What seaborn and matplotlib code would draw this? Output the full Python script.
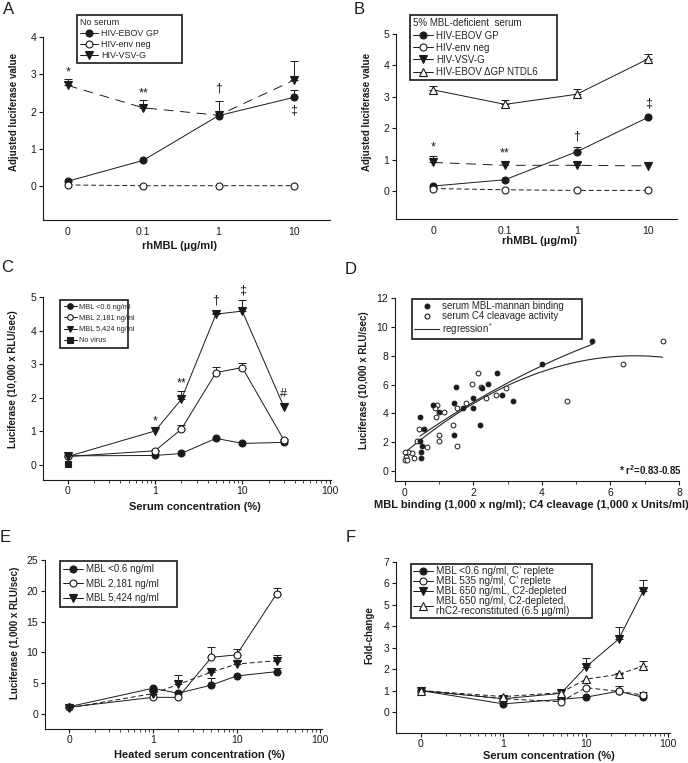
import numpy as np
import matplotlib
matplotlib.use('Agg')
import matplotlib.pyplot as plt
import seaborn as sns
from matplotlib.lines import Line2D
from matplotlib.ticker import FixedLocator, NullFormatter

# ---- Panel A: no serum ----
dose_labels = ['0', '0.1', '1', '10']
a_ebov = [0.13, 0.69, 1.89, 2.38]
a_ebov_err = [0, 0, 0, 0.21]
a_envneg = [0.03, 0.01, 0.01, 0.01]
a_vsvg = [2.70, 2.10, 1.90, 2.84]
a_vsvg_err = [0.16, 0.20, 0.37, 0.52]
a_sig = ['*', '**', '\u2020', '\u2021']
a_sig_y = [3.05, 2.48, 2.62, 2.02]

# ---- Panel B: 5% MBL-deficient serum ----
b_ebov = [0.16, 0.36, 1.25, 2.35]
b_ebov_err = [0, 0, 0.14, 0]
b_envneg = [0.08, 0.04, 0.02, 0.02]
b_vsvg = [0.91, 0.82, 0.82, 0.80]
b_vsvg_err = [0.20, 0, 0.12, 0]
b_ntdl6 = [3.22, 2.76, 3.08, 4.21]
b_ntdl6_err = [0.13, 0.14, 0.16, 0.16]
b_sig = ['*', '**', '\u2020', '\u2021']
b_sig_y = [1.38, 1.19, 1.73, 2.78]

# ---- Panel C: serum titration ----
c_serum = [0, 1, 2, 5, 10, 30]
c_low = [0.27, 0.28, 0.34, 0.79, 0.64, 0.67]
c_mid = [0.25, 0.42, 1.06, 2.75, 2.90, 0.74]
c_mid_err = [0, 0.03, 0.14, 0.18, 0.12, 0.03]
c_high = [0.25, 1.01, 1.95, 4.49, 4.58, 1.73]
c_high_err = [0, 0, 0.25, 0.03, 0.32, 0]
c_novirus_x = [0]
c_novirus = [0.03]
c_sig = ['*', '**', '\u2020', '\u2021', '#']
c_sig_x = [1, 2, 5, 10, 30]
c_sig_y = [1.3, 2.43, 4.9, 5.2, 2.1]

# ---- Panel D: MBL binding / C4 cleavage vs luciferase ----
d_mbl_x = [5.47, 4.01, 2.68, 2.43, 2.26, 1.50, 2.82, 3.16, 1.99, 1.43, 1.70, 2.00,
           0.83, 0.99, 0.44, 0.57, 2.20, 1.43, 0.49, 0.45, 0.46, 0.46]
d_mbl_y = [9.05, 7.45, 6.80, 6.02, 5.74, 5.86, 5.25, 4.86, 5.05, 4.72, 4.38, 4.40,
           4.58, 4.10, 3.77, 2.94, 3.19, 2.52, 1.74, 2.05, 1.34, 0.88]
d_c4_x = [7.52, 6.37, 4.72, 2.14, 1.96, 2.21, 2.94, 2.65, 2.37, 1.77, 1.51, 0.93,
          0.88, 1.13, 0.90, 0.42, 1.39, 1.00, 0.98, 1.51, 0.34, 0.63, 0.21, 0.10,
          0.00, 0.27, 0.02, 0.00, 0.05]
d_c4_y = [9.05, 7.45, 4.84, 6.80, 6.02, 5.86, 5.74, 5.25, 5.05, 4.72, 4.38, 4.56,
          4.40, 4.10, 3.77, 2.94, 3.17, 2.52, 2.06, 1.74, 2.06, 1.70, 1.27, 1.34,
          1.34, 0.88, 1.00, 0.78, 0.80]

# ---- Panel E: heated serum ----
e_serum = [0, 1, 2, 5, 10, 30]
e_low = [1.2, 4.17, 3.36, 4.7, 6.17, 6.87]
e_low_err = [0, 0, 0, 1.1, 0, 0.65]
e_mid = [1.1, 2.7, 2.7, 9.2, 9.6, 19.5]
e_mid_err = [0, 0, 0, 1.6, 0.9, 1.0]
e_high = [1.0, 3.3, 4.8, 6.8, 8.1, 8.66]
e_high_err = [0, 0.4, 1.6, 0.7, 0.7, 0.95]

# ---- Panel F: C2 depletion ----
f_serum = [0, 1, 5, 10, 25, 50]
f_low = [1.0, 0.38, 0.59, 0.69, 0.97, 0.68]
f_mid = [1.0, 0.62, 0.48, 1.14, 0.96, 0.79]
f_mid_err = [0, 0, 0, 0, 0.25, 0.15]
f_c2dep = [1.0, 0.62, 0.87, 2.10, 3.40, 5.66]
f_c2dep_err = [0, 0, 0, 0.4, 0.55, 0.5]
f_rhc2 = [1.0, 0.72, 0.90, 1.53, 1.76, 2.15]
f_rhc2_err = [0, 0, 0, 0, 0.05, 0.25]

W, H = 688, 763
sns.set_theme(style='ticks')
plt.rcParams['font.family'] = ['Liberation Sans', 'DejaVu Sans']
plt.rcParams['mathtext.fontset'] = 'custom'
plt.rcParams['mathtext.rm'] = 'Liberation Sans'
plt.rcParams['mathtext.bf'] = 'Liberation Sans:bold'

fig = plt.figure(figsize=(W / 100, H / 100), dpi=100)
fig.patch.set_facecolor('white')


def add_axes(l, r, t, b):
    return fig.add_axes([l / W, 1 - b / H, (r - l) / W, (b - t) / H])


def style(ax):
    sns.despine(ax=ax)
    for s in ('left', 'bottom'):
        ax.spines[s].set_linewidth(0.8)
        ax.spines[s].set_color('k')
    ax.tick_params(direction='out', length=3, width=0.8, labelsize=7.5,
                   colors='k', pad=2)
    ax.set_facecolor('white')


def log_axis(ax, left, right):
    # serum 0 is drawn one decade left of 1
    ax.set_xscale('log')
    ax.set_xlim(left, right)
    ax.set_xticks([0.1, 1, 10, 100])
    ax.set_xticklabels(['0', '1', '10', '100'])
    minor = [m * 10.0 ** e for e in (-1, 0, 1) for m in range(2, 10)]
    ax.xaxis.set_minor_locator(FixedLocator(minor))
    ax.xaxis.set_minor_formatter(NullFormatter())
    ax.tick_params(axis='x', which='minor', length=2, width=0.6)
    ax.tick_params(axis='x', which='major', pad=1)


def xpos(vals):
    return [0.1 if v == 0 else v for v in vals]


def series(ax, x, y, marker, filled, ls='-', ms=5):
    sns.lineplot(x=x, y=y, ax=ax, color='k', lw=0.7, linestyle=ls,
                 marker=marker, markersize=ms,
                 markerfacecolor='k' if filled else 'white',
                 markeredgecolor='k', markeredgewidth=0.8,
                 errorbar=None, sort=False, zorder=3)


def upper_err(ax, x, y, err):
    x = np.asarray(x, float)
    y = np.asarray(y, float)
    e = np.asarray(err, float)
    keep = e > 0
    ax.errorbar(x[keep], y[keep], yerr=[np.zeros(keep.sum()), e[keep]],
                fmt='none', ecolor='k', elinewidth=0.7, capsize=2.8,
                capthick=0.7, zorder=2)


def handle(marker, filled, ms=5, lw=0.7):
    return Line2D([], [], color='k', lw=lw, marker=marker, ms=ms,
                  mfc='k' if filled else 'white', mec='k', mew=0.8)


def legend(ax, handles, labels, x0, x1, y, size, title=None, hl=2.0,
           spacing=0.15, pad=0.35, linesp=1.2):
    leg = ax.legend(handles, labels, loc='upper left', mode='expand',
                    bbox_to_anchor=(x0 / W, 1 - y / H, (x1 - x0) / W, 0),
                    bbox_transform=fig.transFigure, borderaxespad=0,
                    fontsize=size, title=title, title_fontsize=size,
                    frameon=True, fancybox=False, handlelength=hl,
                    handletextpad=0.3, labelspacing=spacing, borderpad=pad,
                    alignment='left')
    leg.get_frame().set_edgecolor('k')
    leg.get_frame().set_linewidth(1.2)
    leg.get_frame().set_alpha(1)
    for t in leg.get_texts():
        t.set_linespacing(linesp)
    return leg


def labels(ax, xlabel, ylabel, xl_x, xl_y, yl_x, yl_y):
    ax.set_xlabel(xlabel, fontsize=8, fontweight='bold', color='k')
    ax.set_ylabel(ylabel, fontsize=7, fontweight='bold', color='k')
    ax.xaxis.set_label_coords(xl_x / W, 1 - xl_y / H, transform=fig.transFigure)
    ax.yaxis.set_label_coords(yl_x / W, 1 - yl_y / H, transform=fig.transFigure)
    ax.xaxis.label.set_va('center')
    ax.yaxis.label.set_va('center')


def sig(ax, xs, ys, marks):
    for x, y, m in zip(xs, ys, marks):
        ax.text(x, y, m, fontsize=9, ha='center', va='center', color='k',
                clip_on=False)


# ---------------- A ----------------
axA = add_axes(43, 330, 37, 220)
style(axA)
pos = list(range(len(dose_labels)))
upper_err(axA, pos, a_ebov, a_ebov_err)
upper_err(axA, pos, a_vsvg, a_vsvg_err)
series(axA, pos, a_ebov, 'o', True)
series(axA, pos, a_envneg, 'o', False, ls=(0, (5, 3)))
series(axA, pos, a_vsvg, 'v', True, ls=(0, (10, 7)), ms=5.5)
axA.set_xlim(-0.33, 3.48)
axA.set_ylim(-0.91, 4)
axA.set_yticks([0, 1, 2, 3, 4])
axA.set_xticks(pos)
axA.set_xticklabels(dose_labels)
axA.tick_params(axis='x', length=0, pad=5)
sig(axA, pos, a_sig_y, a_sig)
labels(axA, 'rhMBL (\u00b5g/ml)', 'Adjusted luciferase value', 180, 246, 14, 112)
legend(axA, [handle('o', True), handle('o', False), handle('v', True, 5.5)],
       ['HIV-EBOV GP', 'HIV-env neg', 'HIV-VSV-G'], 77, 182, 15, 6.5,
       title='No serum', spacing=0.22)

# ---------------- B ----------------
axB = add_axes(396, 677, 34, 219)
style(axB)
upper_err(axB, pos, b_ebov, b_ebov_err)
upper_err(axB, pos, b_vsvg, b_vsvg_err)
upper_err(axB, pos, b_ntdl6, b_ntdl6_err)
series(axB, pos, b_ntdl6, '^', False, ms=5.5)
series(axB, pos, b_ebov, 'o', True)
series(axB, pos, b_envneg, 'o', False, ls=(0, (5, 3)))
series(axB, pos, b_vsvg, 'v', True, ls=(0, (10, 7)), ms=5.5)
axB.set_xlim(-0.52, 3.40)
axB.set_ylim(-0.89, 5)
axB.set_yticks([0, 1, 2, 3, 4, 5])
axB.set_xticks(pos)
axB.set_xticklabels(dose_labels)
axB.tick_params(axis='x', length=0, pad=5)
sig(axB, pos, b_sig_y, b_sig)
labels(axB, 'rhMBL (\u00b5g/ml)', 'Adjusted luciferase value', 540, 241, 367, 112)
legend(axB, [handle('o', True), handle('o', False), handle('v', True, 5.5),
             handle('^', False, 5.5)],
       ['HIV-EBOV GP', 'HIV-env neg', 'HIV-VSV-G', 'HIV-EBOV \u0394GP NTDL6'],
       410, 557, 15, 7, title='5% MBL-deficient  serum', spacing=0.22)

# ---------------- C ----------------
axC = add_axes(43, 331, 297, 480)
style(axC)
log_axis(axC, 0.052, 104)
cx = xpos(c_serum)
upper_err(axC, cx, c_mid, c_mid_err)
upper_err(axC, cx, c_high, c_high_err)
series(axC, cx, c_low, 'o', True)
series(axC, cx, c_mid, 'o', False)
series(axC, cx, c_high, 'v', True, ms=5.5)
series(axC, xpos(c_novirus_x), c_novirus, 's', True, ms=4.5)
axC.set_ylim(-0.45, 5)
axC.set_yticks([0, 1, 2, 3, 4, 5])
sig(axC, c_sig_x, c_sig_y, c_sig)
labels(axC, 'Serum concentration (%)', 'Luciferase (10,000 x RLU/sec)', 195, 507, 13, 379)
legend(axC, [handle('o', True, 4), handle('o', False, 4), handle('v', True, 4.5),
             handle('s', True, 3.8)],
       ['MBL <0.6 ng/ml', 'MBL 2,181 ng/ml', 'MBL 5,424 ng/ml', 'No virus'],
       60, 128, 300, 5.3, hl=1.8, spacing=0.55, pad=0.5)

# ---------------- D ----------------
axD = add_axes(395, 679, 298, 481)
style(axD)
sns.regplot(x=d_mbl_x, y=d_mbl_y, ax=axD, order=2, ci=None, scatter=False,
            truncate=True, color='0.15', line_kws={'lw': 0.8})
sns.regplot(x=d_c4_x, y=d_c4_y, ax=axD, order=2, ci=None, scatter=False,
            truncate=True, color='0.15', line_kws={'lw': 0.8})
sns.scatterplot(x=d_c4_x, y=d_c4_y, ax=axD, s=12, color='white',
                edgecolor='k', linewidth=0.7, zorder=3)
sns.scatterplot(x=d_mbl_x, y=d_mbl_y, ax=axD, s=12, color='k',
                edgecolor='k', linewidth=0.7, zorder=4)
axD.set_xlim(-0.29, 8)
axD.set_ylim(-0.69, 12)
axD.set_xticks([0, 2, 4, 6, 8])
axD.set_yticks([0, 2, 4, 6, 8, 10, 12])
axD.xaxis.set_minor_locator(FixedLocator([1, 3, 5, 7]))
axD.tick_params(axis='x', which='minor', length=2, width=0.6)
axD.text(8.08, 0.1, r'* r$^\mathbf{2}$=0.83-0.85', fontsize=7, fontweight='bold',
         ha='right', va='center', color='k')
labels(axD, 'MBL binding (1,000 x ng/ml); C4 cleavage (1,000 x Units/ml)',
       'Luciferase (10,000 x RLU/sec)', 531, 505, 364, 380)
legend(axD, [handle('o', True, 3.5, lw=0), handle('o', False, 3.5, lw=0),
             Line2D([], [], color='0.15', lw=0.8)],
       ['serum MBL-mannan binding', 'serum C4 cleavage activity', r'regression$^*$'],
       412, 582, 299, 7, hl=2.6, spacing=0.0, pad=0.2)

# ---------------- E ----------------
axE = add_axes(45, 322, 560, 729)
style(axE)
log_axis(axE, 0.051, 105)
ex = xpos(e_serum)
upper_err(axE, ex, e_low, e_low_err)
upper_err(axE, ex, e_mid, e_mid_err)
upper_err(axE, ex, e_high, e_high_err)
series(axE, ex, e_low, 'o', True)
series(axE, ex, e_mid, 'o', False)
series(axE, ex, e_high, 'v', True, ls=(0, (5, 3)), ms=5.5)
axE.set_ylim(-2.44, 25)
axE.set_yticks([0, 5, 10, 15, 20, 25])
labels(axE, 'Heated serum concentration (%)', 'Luciferase (1,000 x RLU/sec)',
       199, 755, 15, 633)
legend(axE, [handle('o', True), handle('o', False), handle('v', True, 5.5)],
       ['MBL <0.6 ng/ml', 'MBL 2,181 ng/ml', 'MBL 5,424 ng/ml'], 60, 177, 561, 7,
       spacing=0.45)

# ---------------- F ----------------
axF = add_axes(396, 670, 562, 733)
style(axF)
log_axis(axF, 0.05, 105)
fx = xpos(f_serum)
upper_err(axF, fx, f_mid, f_mid_err)
upper_err(axF, fx, f_c2dep, f_c2dep_err)
upper_err(axF, fx, f_rhc2, f_rhc2_err)
series(axF, fx, f_low, 'o', True)
series(axF, fx, f_mid, 'o', False, ls=(0, (5, 3)))
series(axF, fx, f_c2dep, 'v', True, ms=5.5)
series(axF, fx, f_rhc2, '^', False, ls=(0, (5, 3)), ms=5.5)
axF.set_ylim(-0.98, 7)
axF.set_yticks([0, 1, 2, 3, 4, 5, 6, 7])
labels(axF, 'Serum concentration (%)', 'Fold-change', 549, 756, 369, 635)
legend(axF, [handle('o', True), handle('o', False), handle('v', True, 5.5),
             handle('^', False, 5.5)],
       ['MBL <0.6 ng/ml, C\u2019 replete', 'MBL 535 ng/ml, C\u2019 replete',
        'MBL 650 ng/mL, C2-depleted',
        'MBL 650 ng/ml, C2-depleted,\nrhC2-reconstituted (6.5 \u00b5g/ml)'],
       411, 592, 564, 7.2, spacing=0.0, pad=0.2, linesp=0.95)

# panel letters
for letter, (px, py) in zip('ABCDEF', [(9, 10), (359, 9), (7, 268), (351, 270),
                                      (5, 537), (351, 537)]):
    fig.text(px / W, 1 - py / H, letter, fontsize=12, ha='center', va='center',
             color='k')

fig.savefig('out.png', dpi=100, facecolor='white')
